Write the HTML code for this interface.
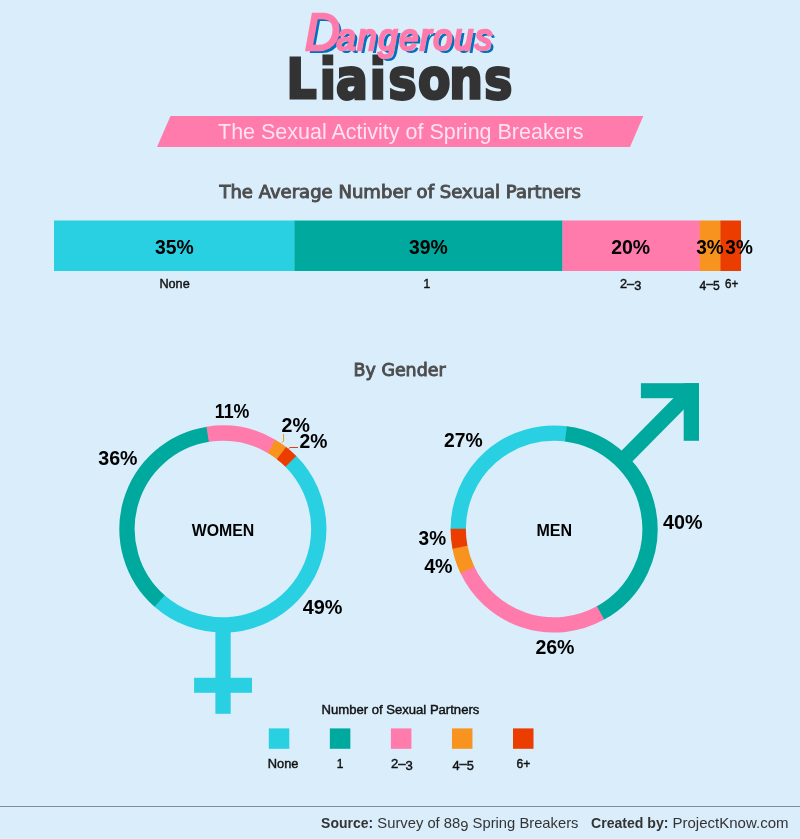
<!DOCTYPE html>
<html lang="en"><head><meta charset="utf-8"><title>Dangerous Liaisons</title>
<style>
html,body{margin:0;padding:0;background:#d9edfb;}
body{width:800px;height:839px;overflow:hidden;}
.dang{position:absolute;left:305px;top:2px;font:italic 37px/60px "Liberation Sans","DejaVu Sans",sans-serif;color:#ff7bac;-webkit-text-stroke:2.6px #ff7bac;text-shadow:3.6px 3.1px 0 #0071bc;transform:scaleX(.93);transform-origin:left top;white-space:nowrap;letter-spacing:1.85px;stroke-linejoin:round;z-index:2}
.dang::first-letter{font-size:52px;letter-spacing:-3.6px}
svg{display:block;position:absolute;left:0;top:0;font-family:"Liberation Sans","DejaVu Sans",sans-serif;}
</style></head><body>
<div class="dang">Dangerous</div>
<svg width="800" height="839" viewBox="0 0 800 839">
<rect width="800" height="839" fill="#d9edfb"/>
<g transform="scale(0.85,1)" font-family="'DejaVu Sans','Liberation Sans',sans-serif" font-weight="bold" fill="#333333" stroke="#333333" stroke-width="3"><text y="98.3" font-size="55.5" x="337.18 376.32 395.18 435.15 457.21 491.91 528.47 569.74">Liaisons</text></g>
<rect x="321" y="65.6" width="14" height="3" fill="#d9edfb"/><rect x="371" y="65.6" width="14" height="3" fill="#d9edfb"/>
<polygon points="170.5,116 643.3,116 630,147 157,147" fill="#ff7bac"/>
<text x="218" y="139" font-size="22.5" font-weight="normal" fill="#ffe3ee" text-anchor="start" textLength="365.5" lengthAdjust="spacingAndGlyphs">The Sexual Activity of Spring Breakers</text>
<text x="219.4" y="197.7" font-size="16.8" font-weight="normal" fill="#4d4d4d" text-anchor="start" textLength="361.4" lengthAdjust="spacingAndGlyphs" stroke="#4d4d4d" stroke-width="0.9" font-family="'DejaVu Sans','Liberation Sans',sans-serif">The Average Number of Sexual Partners</text>
<rect x="54.00" y="220.5" width="240.75" height="50.5" fill="#29d0e2"/>
<rect x="294.45" y="220.5" width="268.23" height="50.5" fill="#00a99d"/>
<rect x="562.38" y="220.5" width="137.70" height="50.5" fill="#ff7bac"/>
<rect x="699.78" y="220.5" width="20.91" height="50.5" fill="#f7931e"/>
<rect x="720.39" y="220.5" width="20.61" height="50.5" fill="#eb3d00"/>
<text x="154.9" y="253.8" font-size="19.6" font-weight="bold" fill="#000" text-anchor="start" textLength="38.8" lengthAdjust="spacingAndGlyphs">35%</text>
<text x="409.0" y="253.8" font-size="19.6" font-weight="bold" fill="#000" text-anchor="start" textLength="38.8" lengthAdjust="spacingAndGlyphs">39%</text>
<text x="611.2" y="253.8" font-size="19.6" font-weight="bold" fill="#000" text-anchor="start" textLength="39.0" lengthAdjust="spacingAndGlyphs">20%</text>
<text x="696.2" y="253.8" font-size="19.6" font-weight="bold" fill="#000" text-anchor="start" textLength="27.5" lengthAdjust="spacingAndGlyphs">3%</text>
<text x="725.3" y="253.8" font-size="19.6" font-weight="bold" fill="#000" text-anchor="start" textLength="27.5" lengthAdjust="spacingAndGlyphs">3%</text>
<text x="159.4" y="287.8" font-size="12" font-weight="normal" fill="#111" text-anchor="start" textLength="30.3" lengthAdjust="spacingAndGlyphs" stroke="#111" stroke-width="0.4">None</text>
<text x="423.6" y="287.8" font-size="12" font-weight="normal" fill="#111" text-anchor="start" stroke="#111" stroke-width="0.4">1</text>
<text x="620.0" y="288" font-size="12" font-weight="normal" fill="#111" text-anchor="start" textLength="21.3" lengthAdjust="spacingAndGlyphs" stroke="#111" stroke-width="0.4" dy="0 0 1.8">2–3</text>
<text x="699.4" y="288" font-size="12" font-weight="normal" fill="#111" text-anchor="start" textLength="20.3" lengthAdjust="spacingAndGlyphs" stroke="#111" stroke-width="0.4" dy="1.8 -1.8 1.8">4–5</text>
<text x="725.0" y="288" font-size="12" font-weight="normal" fill="#111" text-anchor="start" textLength="13.3" lengthAdjust="spacingAndGlyphs" stroke="#111" stroke-width="0.4">6+</text>
<text x="353.6" y="375.9" font-size="16.8" font-weight="normal" fill="#4d4d4d" text-anchor="start" textLength="92" lengthAdjust="spacingAndGlyphs" stroke="#4d4d4d" stroke-width="0.9" font-family="'DejaVu Sans','Liberation Sans',sans-serif">By Gender</text>
<path d="M290.53 461.01A95.9 95.9 0 0 1 159.29 600.77" fill="none" stroke="#29d0e2" stroke-width="15.3"/>
<path d="M159.67 601.10A95.9 95.9 0 0 1 208.15 434.24" fill="none" stroke="#00a99d" stroke-width="15.3"/>
<path d="M207.65 434.32A95.9 95.9 0 0 1 271.93 446.58" fill="none" stroke="#ff7bac" stroke-width="15.3"/>
<path d="M271.50 446.33A95.9 95.9 0 0 1 281.88 453.38" fill="none" stroke="#f7931e" stroke-width="15.3"/>
<path d="M281.48 453.07A95.9 95.9 0 0 1 290.89 461.37" fill="none" stroke="#eb3d00" stroke-width="15.3"/>
<rect x="215.4" y="631" width="15.3" height="82.8" fill="#29d0e2"/>
<rect x="194.1" y="677.8" width="57.9" height="15" fill="#29d0e2"/>
<path d="M283.6 434V441L281.8 442.8" fill="none" stroke="#f7931e" stroke-width="1"/>
<path d="M298 447.5H290L288.5 448.7" fill="none" stroke="#eb3d00" stroke-width="1"/>
<text x="214.8" y="417.8" font-size="19.6" font-weight="bold" fill="#000" text-anchor="start" textLength="34.6" lengthAdjust="spacingAndGlyphs">11%</text>
<text x="281.5" y="431.5" font-size="19.6" font-weight="bold" fill="#000" text-anchor="start" textLength="28.3" lengthAdjust="spacingAndGlyphs">2%</text>
<text x="299.5" y="447.8" font-size="19.6" font-weight="bold" fill="#000" text-anchor="start" textLength="27.9" lengthAdjust="spacingAndGlyphs">2%</text>
<text x="98.3" y="464.8" font-size="19.6" font-weight="bold" fill="#000" text-anchor="start" textLength="39.2" lengthAdjust="spacingAndGlyphs">36%</text>
<text x="302.8" y="614" font-size="19.6" font-weight="bold" fill="#000" text-anchor="start" textLength="39.7" lengthAdjust="spacingAndGlyphs">49%</text>
<text x="191.7" y="535.7" font-size="16" font-weight="bold" fill="#000" text-anchor="start" textLength="62.6" lengthAdjust="spacingAndGlyphs">WOMEN</text>
<path d="M458.20 529.25A95.9 95.9 0 0 1 566.37 433.89" fill="none" stroke="#29d0e2" stroke-width="15.3"/>
<path d="M565.87 433.83A95.9 95.9 0 0 1 600.08 613.16" fill="none" stroke="#00a99d" stroke-width="15.3"/>
<path d="M600.52 612.92A95.9 95.9 0 0 1 467.22 569.60" fill="none" stroke="#ff7bac" stroke-width="15.3"/>
<path d="M467.43 570.06A95.9 95.9 0 0 1 459.85 546.72" fill="none" stroke="#f7931e" stroke-width="15.3"/>
<path d="M459.95 547.22A95.9 95.9 0 0 1 458.20 528.75" fill="none" stroke="#eb3d00" stroke-width="15.3"/>
<path d="M621.91 461.19L691.4 390.8" stroke="#00a99d" stroke-width="15.3" fill="none"/>
<rect x="640.9" y="383.2" width="58.1" height="15" fill="#00a99d"/>
<rect x="683.7" y="383.2" width="15.3" height="57.6" fill="#00a99d"/>
<text x="444.1" y="447.3" font-size="19.6" font-weight="bold" fill="#000" text-anchor="start" textLength="38.7" lengthAdjust="spacingAndGlyphs">27%</text>
<text x="663.0" y="529.3" font-size="19.6" font-weight="bold" fill="#000" text-anchor="start" textLength="39.5" lengthAdjust="spacingAndGlyphs">40%</text>
<text x="535.4" y="654.3" font-size="19.6" font-weight="bold" fill="#000" text-anchor="start" textLength="39.1" lengthAdjust="spacingAndGlyphs">26%</text>
<text x="418.6" y="545.4" font-size="19.6" font-weight="bold" fill="#000" text-anchor="start" textLength="27.5" lengthAdjust="spacingAndGlyphs">3%</text>
<text x="424.2" y="573.4" font-size="19.6" font-weight="bold" fill="#000" text-anchor="start" textLength="28.4" lengthAdjust="spacingAndGlyphs">4%</text>
<text x="536.5" y="535.8" font-size="16" font-weight="bold" fill="#000" text-anchor="start" textLength="35.6" lengthAdjust="spacingAndGlyphs">MEN</text>
<text x="321.6" y="713.8" font-size="12" font-weight="normal" fill="#111" text-anchor="start" textLength="157.7" lengthAdjust="spacingAndGlyphs" stroke="#111" stroke-width="0.4">Number of Sexual Partners</text>
<rect x="268.80" y="728.4" width="20.5" height="20.4" fill="#29d0e2"/>
<rect x="329.85" y="728.4" width="20.5" height="20.4" fill="#00a99d"/>
<rect x="390.90" y="728.4" width="20.5" height="20.4" fill="#ff7bac"/>
<rect x="451.95" y="728.4" width="20.5" height="20.4" fill="#f7931e"/>
<rect x="513.00" y="728.4" width="20.5" height="20.4" fill="#eb3d00"/>
<text x="267.8" y="767.6" font-size="12" font-weight="normal" fill="#111" text-anchor="start" textLength="30.7" lengthAdjust="spacingAndGlyphs" stroke="#111" stroke-width="0.4">None</text>
<text x="336.8" y="767.6" font-size="12" font-weight="normal" fill="#111" text-anchor="start" stroke="#111" stroke-width="0.4">1</text>
<text x="390.9" y="767.8" font-size="12" font-weight="normal" fill="#111" text-anchor="start" textLength="21.9" lengthAdjust="spacingAndGlyphs" stroke="#111" stroke-width="0.4" dy="0 0 1.8">2–3</text>
<text x="452.4" y="767.8" font-size="12" font-weight="normal" fill="#111" text-anchor="start" textLength="21.4" lengthAdjust="spacingAndGlyphs" stroke="#111" stroke-width="0.4" dy="1.8 -1.8 1.8">4–5</text>
<text x="516.4" y="767.8" font-size="12" font-weight="normal" fill="#111" text-anchor="start" textLength="13.9" lengthAdjust="spacingAndGlyphs" stroke="#111" stroke-width="0.4">6+</text>
<rect x="0" y="806" width="800" height="1" fill="#828a92"/>
<text x="321.1" y="828.3" font-size="15" font-weight="bold" fill="#333333" text-anchor="start" textLength="52" lengthAdjust="spacingAndGlyphs">Source:</text>
<text x="377.3" y="828.3" font-size="15" font-weight="normal" fill="#333333" text-anchor="start" textLength="201.2" lengthAdjust="spacingAndGlyphs" dy="0 0 0 0 0 0 0 0 0 0 0 0 2.4 -2.4">Survey of 889 Spring Breakers</text>
<text x="591" y="828.3" font-size="15" font-weight="bold" fill="#333333" text-anchor="start" textLength="77.5" lengthAdjust="spacingAndGlyphs">Created by:</text>
<text x="672.5" y="828.3" font-size="15" font-weight="normal" fill="#333333" text-anchor="start" textLength="116" lengthAdjust="spacingAndGlyphs">ProjectKnow.com</text>
</svg>
</body></html>
